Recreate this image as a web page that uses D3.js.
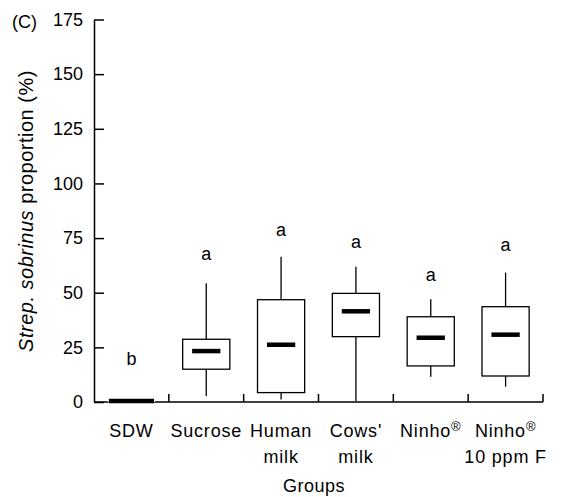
<!DOCTYPE html>
<html>
<head>
<meta charset="utf-8">
<script src="https://cdn.jsdelivr.net/npm/d3@7"></script>
<style>
  body { margin: 0; background: #fff; }
  text { font-family: "Liberation Sans", Arial, sans-serif; fill: #000; }
</style>
</head>
<body>
<script>
// groups and box stats (% Strep. sobrinus)
var groups = ["SDW", "Sucrose", "Human milk", "Cows' milk", "Ninho", "Ninho F"];
var labelLines = [["SDW"], ["Sucrose"], ["Human", "milk"], ["Cows'", "milk"], ["Ninho®"], ["Ninho®", "10 ppm F"]];
var minVals = [0, 2.7, 1.2, 0.5, 11.6, 7];
var q1Vals = [0, 15, 4.3, 29.9, 16.5, 11.9];
var medVals = [0.5, 23.3, 26.2, 41.5, 29.4, 30.8];
var q3Vals = [1, 28.7, 46.8, 49.7, 39, 43.6];
var maxVals = [1, 54.3, 66.5, 61.9, 47, 59.2];
var letters = ["b", "a", "a", "a", "a", "a"];
var letterAt = [17, 65, 76, 70.5, 55.4, 69];
var yTicks = [0, 25, 50, 75, 100, 125, 150, 175];

var W = 563, H = 497;
var svg = d3.select("body").append("svg")
    .attr("width", W)
    .attr("height", H);

var x = d3.scaleBand()
    .domain(groups)
    .range([94, 543])
    .padding(0);

var y = d3.scaleLinear()
    .domain([0, 175])
    .range([402, 19.5]);

var boxW = x.bandwidth() * 0.63,
    medW = boxW * 0.6;

// y axis, ticks pointing inward
var yAxis = d3.axisLeft(y)
    .tickValues(yTicks)
    .tickSize(-10)
    .tickPadding(11)
    .tickSizeOuter(0);

var gy = svg.append("g")
    .attr("transform", "translate(94,0)")
    .call(yAxis);
gy.select(".domain").attr("stroke-width", 1.5);
gy.selectAll(".tick line").attr("stroke-width", 1.5);
gy.selectAll(".tick text")
    .style("font-size", "18px")
    .attr("font-family", null);

// x axis line + boundary ticks
svg.append("line")
    .attr("x1", x.range()[0]).attr("x2", x.range()[1])
    .attr("y1", y(0)).attr("y2", y(0))
    .attr("stroke", "#000").attr("stroke-width", 1.5);

var bounds = groups.slice(1).map(function(d) { return x(d); }).concat([x.range()[1]]);
svg.selectAll(".xtick")
    .data(bounds)
  .enter().append("line")
    .attr("class", "xtick")
    .attr("x1", function(d) { return d; })
    .attr("x2", function(d) { return d; })
    .attr("y1", y(0))
    .attr("y2", y(0) - 8)
    .attr("stroke", "#000").attr("stroke-width", 1.5);

// x labels
var xl = svg.selectAll(".xlab")
    .data(labelLines)
  .enter().append("text")
    .attr("class", "xlab")
    .attr("text-anchor", "middle")
    .style("font-size", "18px")
    .style("letter-spacing", "0.8px")
    .attr("transform", function(d, i) {
      return "translate(" + (x(groups[i]) + x.bandwidth() / 2) + ",437)";
    });

xl.each(function(lines) {
  var t = d3.select(this);
  lines.forEach(function(line, j) {
    var ts = t.append("tspan").attr("x", 0).attr("y", j * 26);
    if (line.indexOf("®") >= 0) {
      ts.text(line.replace("®", ""));
      t.append("tspan")
        .attr("dy", -6)
        .style("font-size", "13px")
        .text("®");
    } else {
      ts.text(line);
    }
  });
});

// boxes
var data = groups.map(function(g, i) {
  return { g: g, min: minVals[i], q1: q1Vals[i], med: medVals[i], q3: q3Vals[i], max: maxVals[i],
           letter: letters[i], ly: letterAt[i] };
});

var box = svg.selectAll(".box")
    .data(data)
  .enter().append("g")
    .attr("class", "box")
    .attr("transform", function(d) { return "translate(" + (x(d.g) + x.bandwidth() / 2) + ",0)"; });

box.append("line")
    .attr("x1", 0).attr("x2", 0)
    .attr("y1", function(d) { return y(d.max); })
    .attr("y2", function(d) { return y(d.q3); })
    .attr("stroke", "#000").attr("stroke-width", 1.3);

box.append("line")
    .attr("x1", 0).attr("x2", 0)
    .attr("y1", function(d) { return y(d.q1); })
    .attr("y2", function(d) { return y(d.min); })
    .attr("stroke", "#000").attr("stroke-width", 1.3);

box.append("rect")
    .attr("x", -boxW / 2)
    .attr("width", boxW)
    .attr("y", function(d) { return y(d.q3); })
    .attr("height", function(d) { return y(d.q1) - y(d.q3); })
    .attr("fill", "#fff")
    .attr("stroke", "#000").attr("stroke-width", function(d) { return d.q3 - d.q1 < 2 ? 0 : 1.3; });

box.append("line")
    .attr("x1", function(d) { return d.q3 - d.q1 < 2 ? -boxW / 2 + 1 : -medW / 2; })
    .attr("x2", function(d) { return d.q3 - d.q1 < 2 ? boxW / 2 - 1 : medW / 2; })
    .attr("y1", function(d) { return y(d.med); })
    .attr("y2", function(d) { return y(d.med); })
    .attr("stroke", "#000").attr("stroke-width", 4.5);

box.append("text")
    .attr("text-anchor", "middle")
    .attr("y", function(d) { return y(d.ly); })
    .style("font-size", "18px")
    .text(function(d) { return d.letter; });

// panel letter
svg.append("text")
    .attr("x", 12).attr("y", 28)
    .style("font-size", "18px")
    .text("(C)");

// y title
var yt = svg.append("text")
    .attr("text-anchor", "middle")
    .attr("transform", "translate(33,211) rotate(-90)")
    .style("font-size", "20px")
    .style("letter-spacing", "0.5px");
yt.append("tspan").style("font-style", "italic").text("Strep. sobrinus");
yt.append("tspan").text(" proportion (%)");

// x title
svg.append("text")
    .attr("x", 314).attr("y", 492)
    .attr("text-anchor", "middle")
    .style("font-size", "18px")
    .style("letter-spacing", "0.5px")
    .text("Groups");
</script>
</body>
</html>
